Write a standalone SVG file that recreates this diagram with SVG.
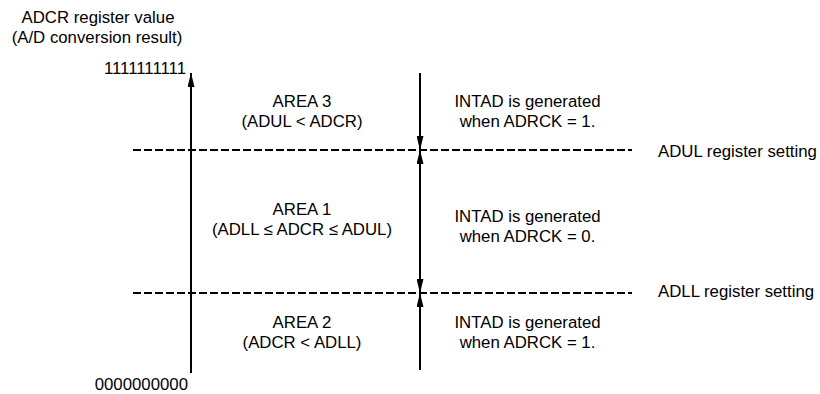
<svg xmlns="http://www.w3.org/2000/svg" width="820" height="394" viewBox="0 0 820 394">
<style>
text{font-family:"Liberation Sans",Arial,sans-serif;font-size:16.8px;fill:#000}
.c{text-anchor:middle}
.e{text-anchor:end}
.ln{stroke:#000;stroke-width:2;fill:none}
.dash{stroke:#000;stroke-width:2;stroke-dasharray:8 3;fill:none}
</style>
<defs>
<marker id="ah" viewBox="0 0 14 7" refX="14" refY="3.5" markerWidth="14" markerHeight="7" markerUnits="userSpaceOnUse" orient="auto-start-reverse">
<path d="M0,0 L14,3.5 L0,7 z" fill="#000"/>
</marker>
</defs>
<rect width="820" height="394" fill="#fff"/>
<g id="axis-label">
<text class="c" x="98" y="23">ADCR register value</text>
<text class="c" x="97" y="43">(A/D conversion result)</text>
<text class="e" x="186" y="74">1111111111</text>
<text class="e" x="188" y="390">0000000000</text>
</g>
<g id="area3">
<text class="c" x="302" y="106.7">AREA 3</text>
<text class="c" x="302" y="126.7">(ADUL &lt; ADCR)</text>
</g>
<g id="area1">
<text class="c" x="302" y="215">AREA 1</text>
<text class="c" x="302" y="235">(ADLL ≤ ADCR ≤ ADUL)</text>
</g>
<g id="area2">
<text class="c" x="302" y="328">AREA 2</text>
<text class="c" x="302" y="348">(ADCR &lt; ADLL)</text>
</g>
<g id="intad3">
<text class="c" x="527.5" y="106.7">INTAD is generated</text>
<text class="c" x="527.5" y="126.7">when ADRCK = 1.</text>
</g>
<g id="intad1">
<text class="c" x="527.5" y="221.7">INTAD is generated</text>
<text class="c" x="527.5" y="241.7">when ADRCK = 0.</text>
</g>
<g id="intad2">
<text class="c" x="527.5" y="328.3">INTAD is generated</text>
<text class="c" x="527.5" y="348.3">when ADRCK = 1.</text>
</g>
<g id="adul-label">
<text x="658" y="156.7">ADUL register setting</text>
</g>
<g id="adll-label">
<text x="658" y="296.7">ADLL register setting</text>
</g>
<g id="connectors">
<line class="dash" x1="133" y1="150" x2="632" y2="150"/>
<line class="dash" x1="133" y1="293" x2="632" y2="293"/>
<line class="ln" x1="191" y1="373" x2="191" y2="73" marker-end="url(#ah)"/>
<line class="ln" x1="420" y1="73" x2="420" y2="150" marker-end="url(#ah)"/>
<line class="ln" x1="420" y1="150" x2="420" y2="293" marker-start="url(#ah)" marker-end="url(#ah)"/>
<line class="ln" x1="420" y1="370" x2="420" y2="293" marker-end="url(#ah)"/>
</g>
</svg>
